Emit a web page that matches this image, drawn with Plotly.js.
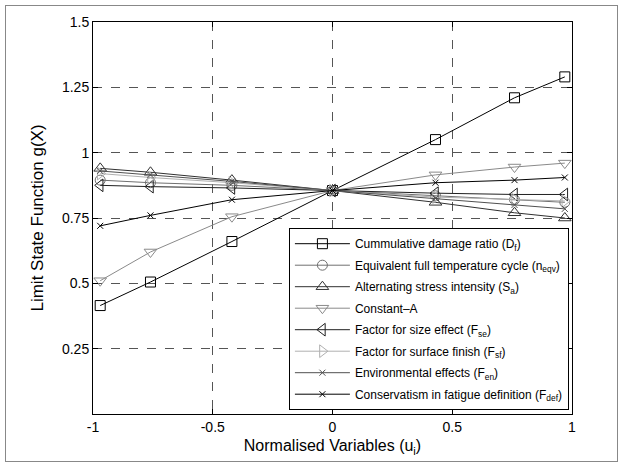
<!DOCTYPE html>
<html>
<head>
<meta charset="utf-8">
<script src="https://cdn.plot.ly/plotly-3.0.1.min.js"></script>
<style>
html,body{margin:0;padding:0;background:#fff;}
#wrap{position:relative;width:623px;height:467px;}
#plot{width:623px;height:467px;}
#frame{position:absolute;left:5px;top:5px;width:611px;height:455px;border:1px solid #888;pointer-events:none;}
</style>
</head>
<body>
<div id="wrap"><div id="plot"></div><div id="frame"></div></div>
<script>
const u = [-0.97, -0.76, -0.42, 0, 0.43, 0.76, 0.97];
const seriesNames = [
  "Cummulative damage ratio (D<sub>f</sub>)",
  "Equivalent full temperature cycle (n<sub>eqv</sub>)",
  "Alternating stress intensity (S<sub>a</sub>)",
  "Constant\u2013A",
  "Factor for size effect (F<sub>se</sub>)",
  "Factor for surface finish (F<sub>sf</sub>)",
  "Environmental effects (F<sub>en</sub>)",
  "Conservatism in fatigue definition (F<sub>def</sub>)"
];
const gDf  = [0.415, 0.505, 0.66, 0.855, 1.05, 1.21, 1.29];
const gNeq = [0.895, 0.885, 0.875, 0.855, 0.835, 0.82, 0.81];
const gSa  = [0.94, 0.925, 0.895, 0.855, 0.81, 0.77, 0.75];
const gA   = [0.51, 0.62, 0.755, 0.855, 0.915, 0.945, 0.96];
const gFse = [0.875, 0.87, 0.865, 0.855, 0.845, 0.84, 0.84];
const gFsf = [0.92, 0.905, 0.885, 0.855, 0.83, 0.82, 0.815];
const gFen = [0.93, 0.915, 0.89, 0.855, 0.825, 0.80, 0.785];
const gFdef= [0.72, 0.76, 0.82, 0.855, 0.885, 0.895, 0.905];
const yTicks = [0.25, 0.5, 0.75, 1, 1.25, 1.5];
const yTickText = ["0.25", "0.5", "0.75", "1", "1.25", "1.5"];
const xTicks = [-1, -0.5, 0, 0.5, 1];
const xTickText = ["-1", "-0.5", "0", "0.5", "1"];

const allY = [gDf, gNeq, gSa, gA, gFse, gFsf, gFen, gFdef];
const colors = ["#000000", "#707070", "#303030", "#8a8a8a", "#202020", "#b0b0b0", "#505050", "#000000"];
const symbols = ["square-open", "circle-open", "triangle-up-open", "triangle-down-open",
                 "triangle-left-open", "triangle-right-open", "x-thin-open", "x-thin-open"];
const sizes = [10, 10, 11, 11, 11, 11, 6, 6];

const traces = allY.map((y, i) => ({
  x: u, y: y, name: seriesNames[i], type: "scatter", mode: "lines+markers",
  legendgroup: "g" + i,
  line: {color: colors[i], width: 1},
  marker: {symbol: symbols[i], size: sizes[i], color: colors[i], line: {color: colors[i], width: 1}}
}));

const font = {family: "Liberation Sans, Arial, sans-serif", color: "#000"};
const layout = {
  width: 623, height: 467,
  margin: {l: 93, r: 51, t: 22, b: 53},
  paper_bgcolor: "#fff", plot_bgcolor: "#fff",
  showlegend: true,
  font: font,
  xaxis: {
    range: [-1, 1], tickvals: xTicks, ticktext: xTickText,
    ticks: "inside", ticklen: 5, tickcolor: "#000",
    showline: true, linecolor: "#000", linewidth: 1, mirror: "ticks",
    showgrid: true, gridcolor: "#555", griddash: "dash", gridwidth: 1,
    zeroline: false,
    tickfont: {size: 14, family: font.family},
    title: {text: "Normalised Variables (u<sub>i</sub>)", font: {size: 16, family: font.family}, standoff: 6}
  },
  yaxis: {
    range: [0, 1.5], tickvals: yTicks, ticktext: yTickText,
    ticks: "inside", ticklen: 5, tickcolor: "#000",
    showline: true, linecolor: "#000", linewidth: 1, mirror: "ticks",
    showgrid: true, gridcolor: "#555", griddash: "dash", gridwidth: 1,
    zeroline: false,
    tickfont: {size: 14, family: font.family},
    title: {text: "Limit State Function g(X)", font: {size: 17, family: font.family}, standoff: 14}
  },
  legend: {
    x: 0.409, y: 0.474, xanchor: "left", yanchor: "top",
    bgcolor: "#fff", bordercolor: "#000", borderwidth: 1,
    font: {size: 12, family: font.family},
    itemwidth: 55,
    tracegroupgap: 2.5
  }
};
Plotly.newPlot("plot", traces, layout, {staticPlot: true, displayModeBar: false});
</script>
</body>
</html>
